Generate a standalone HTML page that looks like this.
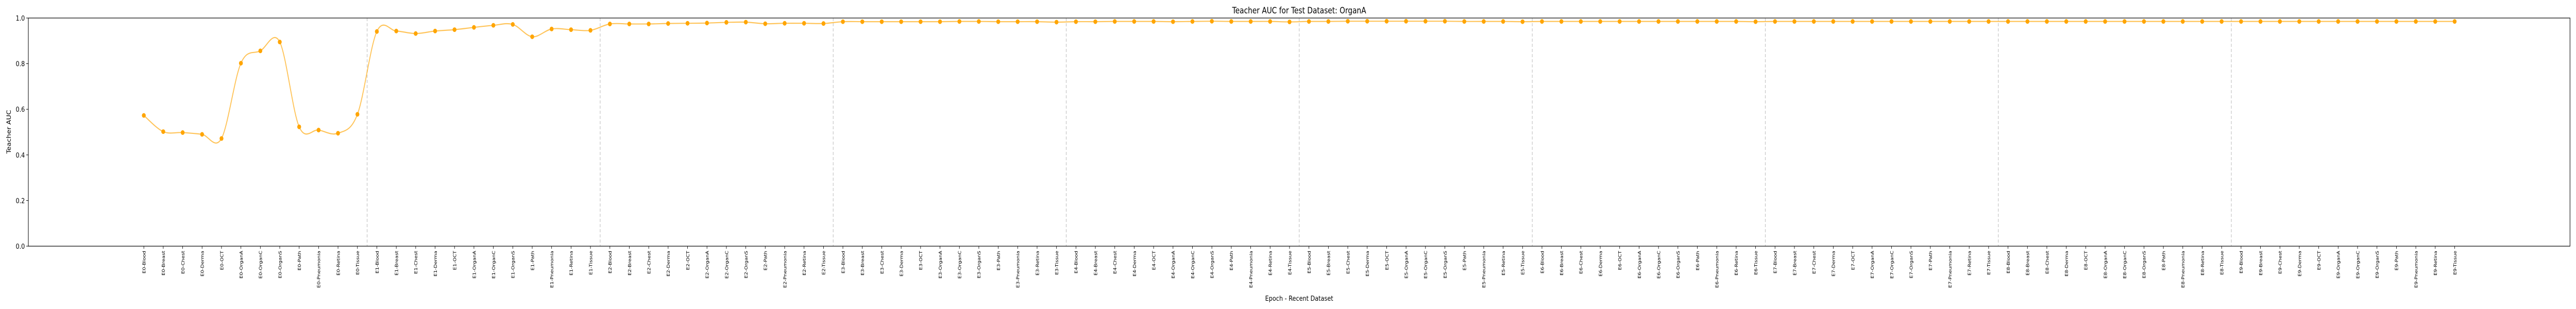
<!DOCTYPE html>
<html><head><meta charset="utf-8"><style>
html,body{margin:0;padding:0;background:#fff;width:100%;height:100%;overflow:hidden;}
svg{display:block;width:100vw;height:100vh;font-family:"DejaVu Sans","Liberation Sans",sans-serif;}
</style></head><body>
<svg id="chart" viewBox="0 0 6000 600" preserveAspectRatio="none" xmlns="http://www.w3.org/2000/svg">
<rect width="6000" height="600" fill="#fff"/>
<text x="3026" y="26" font-size="16.5" text-anchor="middle">Teacher AUC for Test Dataset: OrganA</text>
<g id="grid"></g>
<g id="series"></g>
<g id="axes"></g>
<text x="3026" y="584" font-size="13.5" text-anchor="middle">Epoch - Recent Dataset</text>
<text transform="translate(25,256) rotate(-90)" font-size="13.5" text-anchor="middle">Teacher AUC</text>
</svg>
<script>
const datasets = ["Blood","Breast","Chest","Derma","OCT","OrganA","OrganC","OrganS","Path","Pneumonia","Retina","Tissue"];
const epochs = [0,1,2,3,4,5,6,7,8,9];
const yTicks = [0.0,0.2,0.4,0.6,0.8,1.0];
const auc0 = [0.573,0.502,0.498,0.490,0.472,0.802,0.856,0.895,0.523,0.509,0.495,0.578];
const auc1 = [0.941,0.943,0.932,0.943,0.949,0.959,0.968,0.972,0.918,0.952,0.949,0.946];
const auc2 = [0.974,0.974,0.974,0.976,0.977,0.978,0.981,0.982,0.975,0.977,0.977,0.976];
const auc3 = [0.984,0.984,0.984,0.984,0.984,0.984,0.985,0.985,0.984,0.984,0.984,0.982];
const auc4 = [0.984,0.984,0.985,0.985,0.985,0.984,0.985,0.986,0.985,0.985,0.985,0.983];
const auc5 = [0.985,0.985,0.986,0.986,0.986,0.986,0.986,0.986,0.985,0.985,0.985,0.984];
const auc6 = [0.985,0.985,0.985,0.985,0.985,0.985,0.985,0.985,0.985,0.985,0.985,0.984];
const auc7 = [0.985,0.985,0.985,0.985,0.985,0.985,0.985,0.985,0.985,0.985,0.985,0.985];
const auc8 = [0.985,0.985,0.985,0.985,0.985,0.985,0.985,0.985,0.985,0.985,0.985,0.985];
const auc9 = [0.985,0.985,0.985,0.985,0.985,0.985,0.985,0.985,0.985,0.985,0.985,0.985];
const aucByEpoch = [auc0,auc1,auc2,auc3,auc4,auc5,auc6,auc7,auc8,auc9];

const NS = "http://www.w3.org/2000/svg";
const L = 66, R = 5986, T = 35, B = 478;
const X0 = 335, DX = 45.23;
const xs = i => X0 + i * DX;
const ys = v => B - v * (B - T);
function mk(tag, attrs, parent){const e=document.createElementNS(NS,tag);for(const k in attrs)e.setAttribute(k,attrs[k]);parent.appendChild(e);return e;}

const grid = document.getElementById('grid');
const series = document.getElementById('series');
const axes = document.getElementById('axes');

for (let e = 1; e < epochs.length; e++) {
  const x = xs(e * datasets.length - 0.5);
  const ln = mk('line',{x1:x,x2:x,y1:T,y2:B,stroke:'#aaa','stroke-width':1.2,'stroke-dasharray':'6,4',opacity:0.8},grid);
  
  
}

const pts = [];
epochs.forEach((e, ei) => aucByEpoch[ei].forEach((v, di) => pts.push([xs(ei * datasets.length + di), ys(v)])));

let d = `M${pts[0][0]},${pts[0][1]}`;
for (let i = 0; i < pts.length - 1; i++) {
  const p0 = pts[Math.max(0,i-1)], p1 = pts[i], p2 = pts[i+1], p3 = pts[Math.min(pts.length-1,i+2)];
  const c1x = p1[0] + (p2[0]-p0[0])/6, c1y = p1[1] + (p2[1]-p0[1])/6;
  const c2x = p2[0] - (p3[0]-p1[0])/6, c2y = p2[1] - (p3[1]-p1[1])/6;
  d += ` C${c1x},${c1y} ${c2x},${c2y} ${p2[0]},${p2[1]}`;
}
const path = mk('path',{d:d,fill:'none',stroke:'#ffa500','stroke-width':2.2,'stroke-opacity':0.65},series);



pts.forEach((p) => {
  const c = mk('circle',{cx:p[0],cy:p[1],r:4.5,fill:'#ffa500'},series);
  
  
});

const frame = mk('rect',{x:L,y:T,width:R-L,height:B-T,fill:'none',stroke:'#000','stroke-width':1.2},axes);



yTicks.forEach(t => {
  const y = ys(t);
  mk('line',{x1:L-5,x2:L,y1:y,y2:y,stroke:'#000','stroke-width':1},axes);
  const tx = mk('text',{x:L-8,y:y+5,'font-size':13.5,'text-anchor':'end'},axes);
  tx.textContent = t.toFixed(1);
  
  
});

epochs.forEach((e, ei) => datasets.forEach((ds, di) => {
  const x = xs(ei * datasets.length + di);
  mk('line',{x1:x,x2:x,y1:B,y2:B+5,stroke:'#000','stroke-width':1},axes);
  const tx = mk('text',{transform:`translate(${x+4},${B+9}) rotate(-90)`,'font-size':10,'text-anchor':'end'},axes);
  tx.textContent = `E${e}-${ds}`;
  
  
}));
</script>
</body></html>
